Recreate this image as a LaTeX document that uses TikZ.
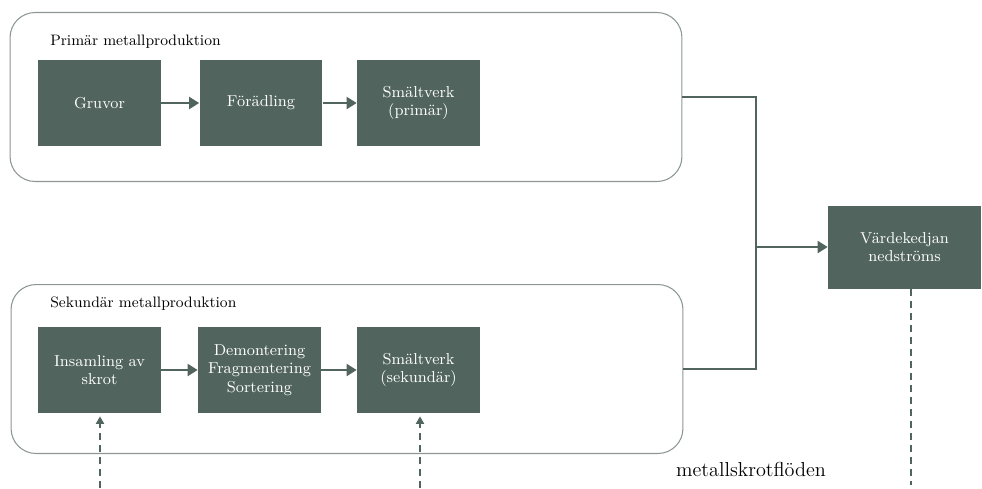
\documentclass[tikz,border=0pt]{standalone}
\usepackage{fontspec}
\usetikzlibrary{arrows.meta}
\definecolor{boxgreen}{HTML}{51645D}
\definecolor{framegray}{HTML}{8C9792}

\begin{document}
\begin{tikzpicture}[x=0.02cm, y=-0.02cm,
    font=\fontsize{9}{10.5}\selectfont,
    stage/.style={draw=none, fill=boxgreen, text=white, align=center,
      minimum width=2.46cm, minimum height=1.72cm, inner sep=0pt},
    group/.style={draw=framegray, line width=0.6pt, rounded corners=0.5cm,
      minimum width=13.44cm, minimum height=3.38cm, inner sep=0pt},
    grouptitle/.style={anchor=base west, inner sep=0pt, font=\fontsize{8.6}{10}\selectfont},
    flow/.style={draw=boxgreen, line width=1.1pt,
      -{Triangle[length=0.2cm, width=0.24cm]}},
    scrap/.style={draw=boxgreen, line width=1.1pt, dash pattern=on 0.14cm off 0.1cm,
      -{Triangle[length=0.15cm, width=0.16cm]}, shorten >=0.06cm}]
    \useasboundingbox (0,0) rectangle (982,488);

    % ramar
    \node[group] (prim) at (346,97) {};
    \node[group] (sek) at (347,369) {};
    \node[grouptitle] (primtitle) at (50,45) {Primär metallproduktion};
    \node[grouptitle] (sektitle) at (50,307) {Sekundär metallproduktion};

    % primär kedja
    \node[stage] (gruvor) at (99.5,103) {Gruvor};
    \node[stage] (forad) at (261,103) {Förädling};
    \node[stage] (smp) at (418.5,103) {Smältverk\\(primär)};

    % sekundär kedja
    \node[stage] (insaml) at (99.5,370) {Insamling av\\skrot};
    \node[stage] (demont) at (259.5,370) {Demontering\\Fragmentering\\Sortering};
    \node[stage] (sms) at (418.5,370) {Smältverk\\(sekundär)};

    % nedströms
    \node[stage, minimum width=3.06cm, minimum height=1.66cm] (varde) at (904.5,247) {Värdekedjan\\nedströms};
    \node[font=\fontsize{11.5}{13}\selectfont] (skrottext) at (751,469) {metallskrotflöden};

    \coordinate (join) at (756,247);
    \coordinate (ut1) at (100,488);
    \coordinate (ut2) at (420,488);
    \coordinate (ut3) at (911,488);

    % pilar
    \draw[flow] (gruvor) -- (forad);
    \draw[flow] (forad) -- (smp);
    \draw[flow] (insaml) -- (demont);
    \draw[flow] (demont) -- (sms);
    \draw[draw=boxgreen, line width=1.1pt] (prim.east) -| (join);
    \draw[draw=boxgreen, line width=1.1pt] (sek.east) -| (join);
    \draw[flow] (join) -- (varde.west);

    % skrotflöden
    \draw[scrap] (ut1) -- (ut1 |- insaml.south);
    \draw[scrap] (ut2) -- (ut2 |- sms.south);
    \draw[scrap, -] (varde.south -| ut3) -- (ut3);
\end{tikzpicture}
\end{document}
